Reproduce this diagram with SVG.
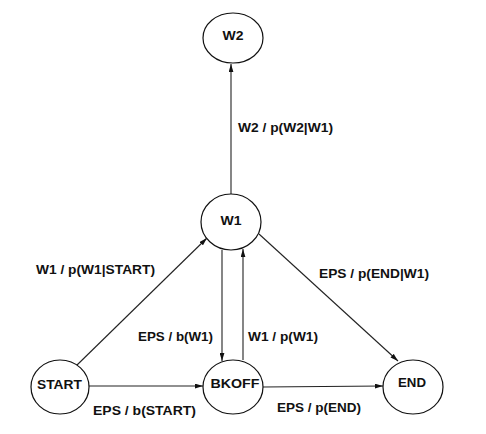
<svg xmlns="http://www.w3.org/2000/svg" width="486" height="434" viewBox="0 0 486 434">
<style>
.node ellipse{fill:#fff;stroke:#111;stroke-width:1.2}
.node text{font-family:"Liberation Sans",Arial,sans-serif;font-weight:bold;font-size:13px;fill:#111;text-anchor:middle}
.edges line{stroke:#222;stroke-width:1.1;marker-end:url(#arr)}
.lbl{font-family:"Liberation Sans",Arial,sans-serif;font-weight:bold;font-size:12.5px;fill:#111}
</style>
<defs>
<marker id="arr" viewBox="0 0 10 6" refX="10" refY="3" markerWidth="8" markerHeight="5" markerUnits="userSpaceOnUse" orient="auto">
<path d="M0,0 L10,3 L0,6 Z" fill="#111"/>
</marker>
</defs>
<rect width="486" height="434" fill="#fff"/>
<g class="edges" id="edges">
<line x1="231" y1="194" x2="231" y2="64"/>
<line x1="76" y1="366" x2="207" y2="238"/>
<line x1="222" y1="250" x2="222" y2="361"/>
<line x1="243" y1="360" x2="243" y2="249"/>
<line x1="89" y1="386" x2="203" y2="386"/>
<line x1="263" y1="387" x2="383" y2="386"/>
<line x1="259" y1="234" x2="398" y2="361"/>
</g>
<g id="labels">
<text class="lbl" x="238" y="131.5" textLength="95" lengthAdjust="spacingAndGlyphs">W2 / p(W2|W1)</text>
<text class="lbl" x="36" y="273.5" textLength="119" lengthAdjust="spacingAndGlyphs">W1 / p(W1|START)</text>
<text class="lbl" x="138" y="341" textLength="75" lengthAdjust="spacingAndGlyphs">EPS / b(W1)</text>
<text class="lbl" x="248" y="341" textLength="70" lengthAdjust="spacingAndGlyphs">W1 / p(W1)</text>
<text class="lbl" x="319" y="277.5" textLength="110" lengthAdjust="spacingAndGlyphs">EPS / p(END|W1)</text>
<text class="lbl" x="93" y="414.5" textLength="103" lengthAdjust="spacingAndGlyphs">EPS / b(START)</text>
<text class="lbl" x="277" y="411.5" textLength="84" lengthAdjust="spacingAndGlyphs">EPS / p(END)</text>
</g>
<g class="node" id="W2"><ellipse cx="233" cy="38" rx="30" ry="25"/><text x="233" y="40" textLength="21" lengthAdjust="spacingAndGlyphs">W2</text></g>
<g class="node" id="W1"><ellipse cx="231" cy="222" rx="30" ry="28"/><text x="231" y="225" textLength="21" lengthAdjust="spacingAndGlyphs">W1</text></g>
<g class="node" id="START"><ellipse cx="60" cy="387" rx="29" ry="27"/><text x="59.5" y="389" textLength="45" lengthAdjust="spacingAndGlyphs">START</text></g>
<g class="node" id="BKOFF"><ellipse cx="233" cy="387" rx="30" ry="27"/><text x="235" y="388" textLength="49" lengthAdjust="spacingAndGlyphs">BKOFF</text></g>
<g class="node" id="END"><ellipse cx="413" cy="387" rx="30" ry="27"/><text x="412" y="387" textLength="28" lengthAdjust="spacingAndGlyphs">END</text></g>
</svg>
